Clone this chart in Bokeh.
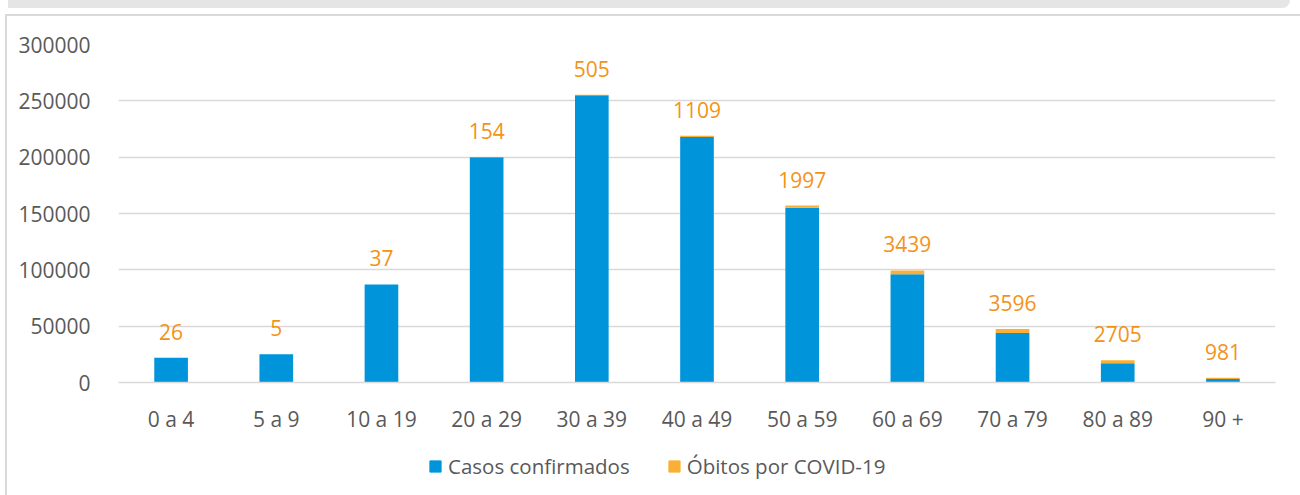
from bokeh.plotting import figure
from bokeh.models import (ColumnDataSource, Legend, LegendItem, Range1d, FixedTicker,
                          LabelSet, Div)
from bokeh.layouts import column
from bokeh.core.properties import value
from bokeh.embed import file_html
from bokeh.resources import INLINE

categorias = ["0 a 4", "5 a 9", "10 a 19", "20 a 29", "30 a 39", "40 a 49",
              "50 a 59", "60 a 69", "70 a 79", "80 a 89", "90 +"]
casos = [22000, 25000, 87000, 200000, 255000, 218000, 155000, 96000, 44000, 17000, 3200]
obitos = [26, 5, 37, 154, 505, 1109, 1997, 3439, 3596, 2705, 981]
y_ticks = [0, 50000, 100000, 150000, 200000, 250000, 300000]
series = ["Casos confirmados", "Óbitos por COVID-19"]

total = [c + o for c, o in zip(casos, obitos)]
source = ColumnDataSource(dict(cat=categorias, casos=casos, obitos=obitos,
                               total=total, lab=[str(o) for o in obitos]))

BLUE = "#0095DA"
ORANGE = "#FAB035"
LABEL = "#F39316"
GREY = "#595959"
FONT = "Open Sans"

p = figure(x_range=categorias, y_range=Range1d(0, 300000), width=1293, height=424,
           output_backend="svg", toolbar_location=None,
           min_border_left=111, min_border_right=25, min_border_top=28, min_border_bottom=58)

r = p.vbar_stack(["casos", "obitos"], x="cat", width=0.32, color=[BLUE, ORANGE],
                 line_color=None, source=source)

labels = LabelSet(x="cat", y="total", text="lab", source=source, text_align="center",
                  text_baseline="alphabetic", y_offset=18, text_color=LABEL,
                  text_font=value(FONT), text_font_size="21px")
p.add_layout(labels)

p.outline_line_color = None
p.xgrid.grid_line_color = None
p.ygrid.grid_line_color = "#D9D9D9"
p.ygrid.grid_line_width = 1.5
p.yaxis.ticker = FixedTicker(ticks=y_ticks)
p.yaxis.formatter.use_scientific = False
for ax in (p.xaxis, p.yaxis):
    ax.axis_line_color = None
    ax.major_tick_line_color = None
    ax.minor_tick_line_color = None
    ax.major_label_text_font = FONT
    ax.major_label_text_font_size = "21px"
    ax.major_label_text_color = GREY
p.yaxis.major_label_standoff = 22
p.xaxis.major_label_standoff = 16
p.xaxis.axis_line_color = "#D9D9D9"
p.xaxis.axis_line_width = 1.5

# legend strip
leg = figure(x_range=Range1d(0, 1293), y_range=Range1d(0, 55), width=1293, height=55,
             output_backend="svg", toolbar_location=None,
             x_axis_location=None, y_axis_location=None,
             min_border_left=0, min_border_right=0, min_border_top=0, min_border_bottom=0)
leg.grid.grid_line_color = None
leg.outline_line_color = None
d1 = leg.vbar(x=[-500], top=[-500], bottom=[-501], width=1, color=BLUE)
d2 = leg.vbar(x=[-500], top=[-500], bottom=[-501], width=1, color=ORANGE)
legend = Legend(items=[LegendItem(label=series[0], renderers=[d1]),
                       LegendItem(label=series[1], renderers=[d2])],
                orientation="horizontal", location=(310, 15),
                border_line_color=None, background_fill_alpha=0,
                padding=0, margin=0, spacing=37, label_standoff=6,
                glyph_width=14, glyph_height=14,
                label_text_font=FONT, label_text_font_size="20.5px",
                label_text_color=GREY)
leg.add_layout(legend, "center")

strip = Div(text="", width=1282, height=8, margin=(0, 0, 0, 8),
            styles={"background-color": "#E5E5E5",
                    "border-bottom-right-radius": "9px"})
body = column(p, leg, margin=(6, 0, 0, 5),
              styles={"border-left": "2px solid #D9D9D9",
                      "border-top": "2px solid #D9D9D9"})
root = column(strip, body)

open("out.html", "w").write(file_html(root, INLINE))
